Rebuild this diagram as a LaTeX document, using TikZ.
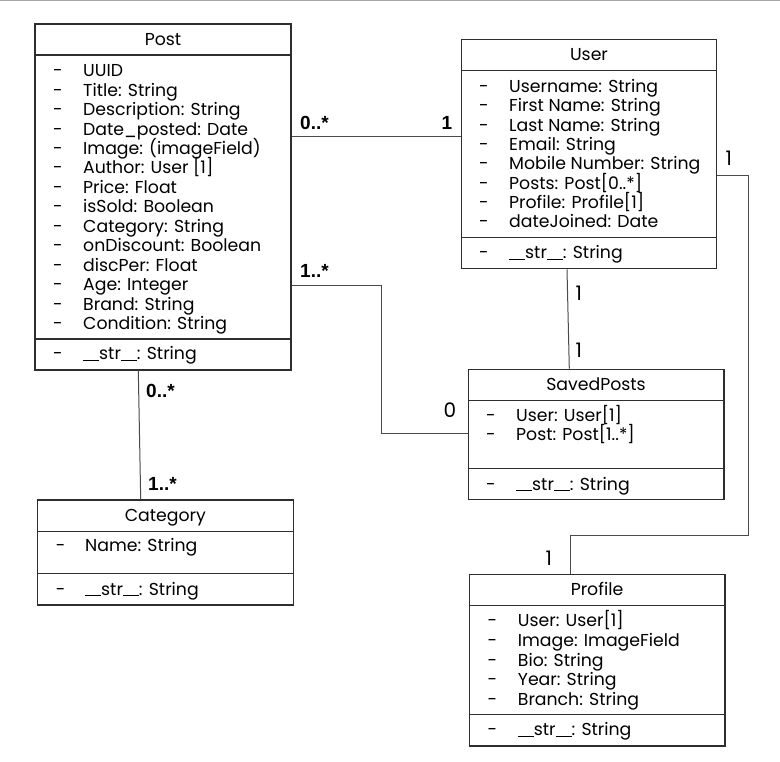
\documentclass[tikz,border=0pt]{standalone}
\usepackage{fontspec}
\setmainfont{Poppins}
\newfontfamily\labfont{Liberation Sans}
\usetikzlibrary{fit}
\definecolor{boxc}{HTML}{2E2E2E}
\definecolor{connc}{HTML}{4A4A4A}
\newcommand\dunder{\rule[-1.2bp]{16bp}{1.1bp}}
\newcommand\strm{\dunder str\dunder: String}
\tikzset{
  classbox/.style={draw=boxc, line width=1.2bp, inner sep=0pt},
  divider/.style={draw=boxc, line width=1.2bp},
  conn/.style={draw=connc, line width=1bp},
  title/.style={anchor=base, inner sep=0pt, font=\fontsize{17.3bp}{20bp}\selectfont},
  attr/.style={anchor=base west, inner sep=0pt, font=\fontsize{17.3bp}{20bp}\selectfont},
  dashlbl/.style={anchor=base, inner sep=0pt, font=\fontsize{17.3bp}{20bp}\selectfont},
  multb/.style={anchor=base west, inner sep=0pt, font=\labfont\bfseries\fontsize{19bp}{22bp}\selectfont},
  multr/.style={anchor=base west, inner sep=0pt, font=\fontsize{20bp}{22bp}\selectfont},
}
% #1 name prefix, #2 dash x, #3 text x, #4 first baseline, #5 step, #6 list
\newcommand\classrows[6]{%
  \foreach \rowtext [count=\i from 0] in {#6} {
    \node[dashlbl] (#1-d\i) at (#2,#4+\i*#5) {-};
    \node[attr] (#1-a\i) at (#3,#4+\i*#5) {\rowtext};
  }}
\begin{document}
\begin{tikzpicture}[x=1bp, y=-1bp]
\useasboundingbox (0,0) rectangle (780,762);
\fill[white] (0,0) rectangle (780,762);
\draw[gray!70, line width=1.5bp] (0,0.75) -- (780,0.75);

% ---------- Post ----------
\node[classbox, fit={(35,24) (291,370)}] (post) {};
\draw[divider] (35,55) -- (291,55);
\draw[divider] (35,339) -- (291,339);
\node[title] (post-t) at (163,45.7) {Post};
\classrows{post}{58}{83}{76.7}{19.45}{UUID, Title: String, Description: String, Date\_posted: Date, Image: (imageField), Author: User [1], Price: Float, isSold: Boolean, Category: String, onDiscount: Boolean, discPer: Float, Age: Integer, Brand: String, Condition: String}
\node[dashlbl] (post-md) at (58,359.8) {-};
\node[attr] (post-m) at (83,359.8) {\strm};

% ---------- User ----------
\node[classbox, fit={(461.7,39.3) (716.7,268.7)}] (user) {};
\draw[divider] (461.7,70.7) -- (716.7,70.7);
\draw[divider] (461.7,237.7) -- (716.7,237.7);
\node[title] (user-t) at (589,61) {User};
\classrows{user}{484}{509}{92.5}{19.33}{Username: String, First Name: String, Last Name: String, Email: String, Mobile Number: String, Posts: Post[0..*], Profile: Profile[1], dateJoined: Date}
\node[dashlbl] (user-md) at (484,258.8) {-};
\node[attr] (user-m) at (509,258.8) {\strm};

% ---------- SavedPosts ----------
\node[classbox, fit={(468.3,369.3) (724,499.7)}] (saved) {};
\draw[divider] (468.3,400.7) -- (724,400.7);
\draw[divider] (468.3,468.7) -- (724,468.7);
\node[title] (saved-t) at (596,390.8) {SavedPosts};
\classrows{saved}{491}{516}{421.5}{19.33}{User: User[1], Post: Post[1..*]}
\node[dashlbl] (saved-md) at (491,490) {-};
\node[attr] (saved-m) at (516,490) {\strm};

% ---------- Category ----------
\node[classbox, fit={(37.3,500) (293.3,605)}] (category) {};
\draw[divider] (37.3,531.3) -- (293.3,531.3);
\draw[divider] (37.3,573.3) -- (293.3,573.3);
\node[title] (category-t) at (165.3,521.5) {Category};
\classrows{category}{60.7}{85}{551.8}{19.4}{Name: String}
\node[dashlbl] (category-md) at (60.7,595) {-};
\node[attr] (category-m) at (85,595) {\strm};

% ---------- Profile ----------
\node[classbox, fit={(469.3,574.3) (725,746)}] (profile) {};
\draw[divider] (469.3,605.7) -- (725,605.7);
\draw[divider] (469.3,714.3) -- (725,714.3);
\node[title] (profile-t) at (597,595.8) {Profile};
\classrows{profile}{492.3}{517.7}{626.8}{19.6}{User: User[1], Image: ImageField, Bio: String, Year: String, Branch: String}
\node[dashlbl] (profile-md) at (492.3,735.8) {-};
\node[attr] (profile-m) at (517.7,735.8) {\strm};

% ---------- connectors ----------
\draw[conn] (post.east |- 0,136.7) -- (user.west |- 0,136.7);
\node[multb] (m-pu1) at (300,129) {0..*};
\node[multb] (m-pu2) at (441.5,129) {1};

\draw[conn] (post.east |- 0,285.5) -| (381,433) -- (saved.west |- 0,433);
\node[multb] (m-ps1) at (300,277) {1..*};
\node[multr] (m-ps2) at (443.5,417.3) {0};

\draw[conn] (user.south -| 567,0) -- (saved.north -| 569.3,0);
\node[multr] (m-us1) at (575.5,300.7) {1};
\node[multr] (m-us2) at (575.5,357.3) {1};

\draw[conn] (user.east |- 0,175) -| (748,535.7) -| (profile.north -| 570,0);
\node[multr] (m-up1) at (725.5,165) {1};
\node[multr] (m-up2) at (545.5,565) {1};

\draw[conn] (post.south -| 138.3,0) -- (category.north -| 140.7,0);
\node[multb] (m-pc1) at (146,397.3) {0..*};
\node[multb] (m-pc2) at (148,490.7) {1..*};
\end{tikzpicture}
\end{document}
